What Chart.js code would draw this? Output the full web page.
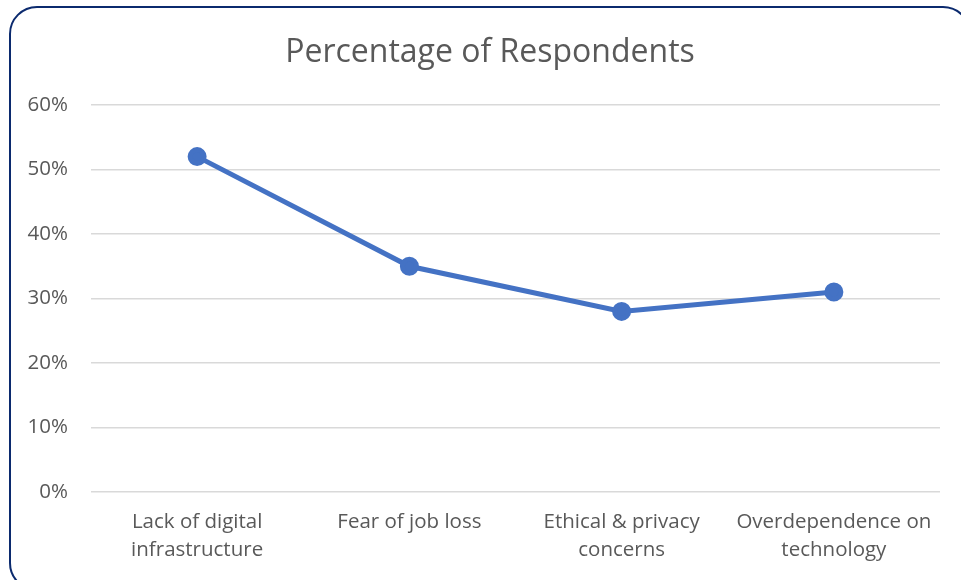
<!DOCTYPE html>
<html>
<head>
<meta charset="utf-8">
<script src="https://cdn.jsdelivr.net/npm/chart.js@4"></script>
<style>
  html, body { margin: 0; padding: 0; background: #fff; overflow: hidden; }
  #wrap { position: relative; width: 961px; height: 580px; }
  #frame {
    position: absolute; left: 9px; top: 6px; width: 962px; height: 585px;
    border: 2px solid #0b2a6e; border-radius: 28px; box-sizing: border-box;
  }
  #titulo {
    position: absolute; left: 0; top: 31px; width: 980px; text-align: center;
    font-family: 'Open Sans', 'Noto Sans', sans-serif; font-size: 32px;
    line-height: 38px; color: #595959;
  }
  #myChart { position: absolute; left: 0; top: 0; }
</style>
</head>
<body>
<div id="wrap">
  <div id="frame"></div>
  <canvas id="myChart" width="961" height="580"></canvas>
  <div id="titulo">Percentage of Respondents</div>
</div>
<script>
// datos
const categorias = [
  ['Lack of digital', 'infrastructure'],
  'Fear of job loss',
  ['Ethical & privacy', 'concerns'],
  ['Overdependence on', 'technology']
];
const porcentajes = [52, 35, 28, 31];
const ticksY = [0, 10, 20, 30, 40, 50, 60];

const fuente = "'Open Sans', 'Noto Sans', sans-serif";
const gris = '#595959';

const ctx = document.getElementById('myChart');

new Chart(ctx, {
  type: 'line',
  data: {
    labels: categorias,
    datasets: [{
      label: 'Percentage of Respondents',
      data: porcentajes,
      borderColor: '#4472c4',
      backgroundColor: '#4472c4',
      borderWidth: 5,
      pointRadius: 7,
      pointHoverRadius: 7,
      tension: 0
    }]
  },
  options: {
    responsive: false,
    animation: false,
    // el título va en HTML, aquí solo se deja su espacio arriba
    layout: { padding: { left: 10, right: 21, top: 105, bottom: 0 } },
    plugins: {
      legend: { display: false },
      tooltip: { enabled: false },
      title: { display: false }
    },
    scales: {
      x: {
        offset: true,
        grid: { display: false, drawTicks: false },
        border: { display: false },
        ticks: {
          color: gris,
          padding: 16,
          maxRotation: 0,
          autoSkip: false,
          font: { family: fuente, size: 20.5, lineHeight: 1.37 }
        },
        afterFit: scale => { scale.height = 88; }
      },
      y: {
        min: 0,
        max: 60,
        afterBuildTicks: scale => { scale.ticks = ticksY.map(v => ({ value: v })); },
        grid: { color: '#d9d9d9', lineWidth: 1.5, drawTicks: false },
        border: { display: false },
        ticks: {
          color: gris,
          padding: 23,
          font: { family: fuente, size: 20.5 },
          callback: v => v + '%'
        },
        afterFit: scale => { scale.width = 81; }
      }
    }
  }
});
</script>
</body>
</html>
